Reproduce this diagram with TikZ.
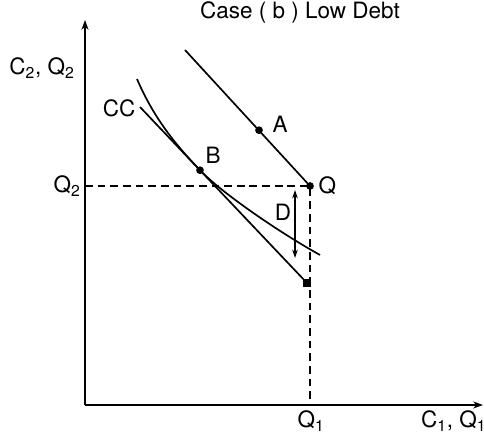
\documentclass[tikz,border=0pt]{standalone}
\usepackage{fontspec}
\setmainfont{TeX Gyre Heros}
\usetikzlibrary{arrows.meta}

\begin{document}
\begin{tikzpicture}[
font=\fontsize{16}{19}\selectfont,
axis/.style={-{Stealth[length=7pt,width=5pt]}, line width=1.1pt},
budget/.style={line width=1.2pt},
guide/.style={dash pattern=on 5.5pt off 3.5pt, line width=0.9pt},
gap/.style={{Stealth[length=6pt,width=4pt]}-{Stealth[length=6pt,width=4pt]}, line width=0.9pt},
dot/.style={circle, fill, inner sep=0pt, minimum size=5.5pt},
sqdot/.style={rectangle, fill, inner sep=0pt, minimum size=5.5pt},
lbl/.style={inner sep=1pt}
]
\useasboundingbox (-2.125,-0.925) rectangle (9.975,10.125);

% Axes
\coordinate (O) at (0,0);
\coordinate (ytop) at (0,9.625);
\coordinate (xend) at (9.95,0);
\draw[axis] (O) -- (ytop);
\draw[axis] (O) -- (xend);

% Points
\node[dot] (Q) at (5.625,5.475) {};
\node[dot] (A) at (4.35,6.87) {};
\node[dot] (B) at (2.875,5.87) {};
\node[sqdot] (E) at (5.55,3.05) {};
\coordinate (a0) at (2.5,8.875);
\coordinate (b0) at (1.375,7.45);
\coordinate (c0) at (1.3,8.15);
\coordinate (c1) at (5.875,3.75);
\coordinate (q2) at (0,5.475);
\coordinate (q1) at (5.625,0);

% Budget lines
\draw[budget] (a0) -- (Q.center);
\draw[budget] (b0) -- (E.center);

% Indifference curve (tangent at B)
\draw[budget] (c0) .. controls (1.75,7.1) and (2.35,6.42) .. (B.center)
  .. controls (3.4,5.32) and (4.8,4.35) .. (c1);

% Dashed guides
\draw[guide] (q2) -- (Q.center) -- (q1);

% Debt gap
\coordinate (dtop) at (5.25,5.375);
\coordinate (dbot) at (5.25,3.675);
\draw[gap] (dtop) -- (dbot);

% Labels
\node[lbl] (title) at (5.375,9.825) {Case ( b ) Low Debt};
\node[lbl] (ylab) at (-1.075,8.425) {C\textsubscript{2}, Q\textsubscript{2}};
\node[lbl] (xlab) at (9.22,-0.4) {C\textsubscript{1}, Q\textsubscript{1}};
\node[lbl] (q2lab) at (-0.45,5.475) {Q\textsubscript{2}};
\node[lbl] (q1lab) at (5.65,-0.4) {Q\textsubscript{1}};
\node[lbl, right=2pt] (qlab) at (Q.east) {Q};
\node[lbl] (alab) at (4.875,7.025) {A};
\node[lbl] (blab) at (3.2,6.25) {B};
\node[lbl] (cclab) at (0.85,7.425) {CC};
\node[lbl] (dlab) at (4.95,4.83) {D};
\end{tikzpicture}
\end{document}
